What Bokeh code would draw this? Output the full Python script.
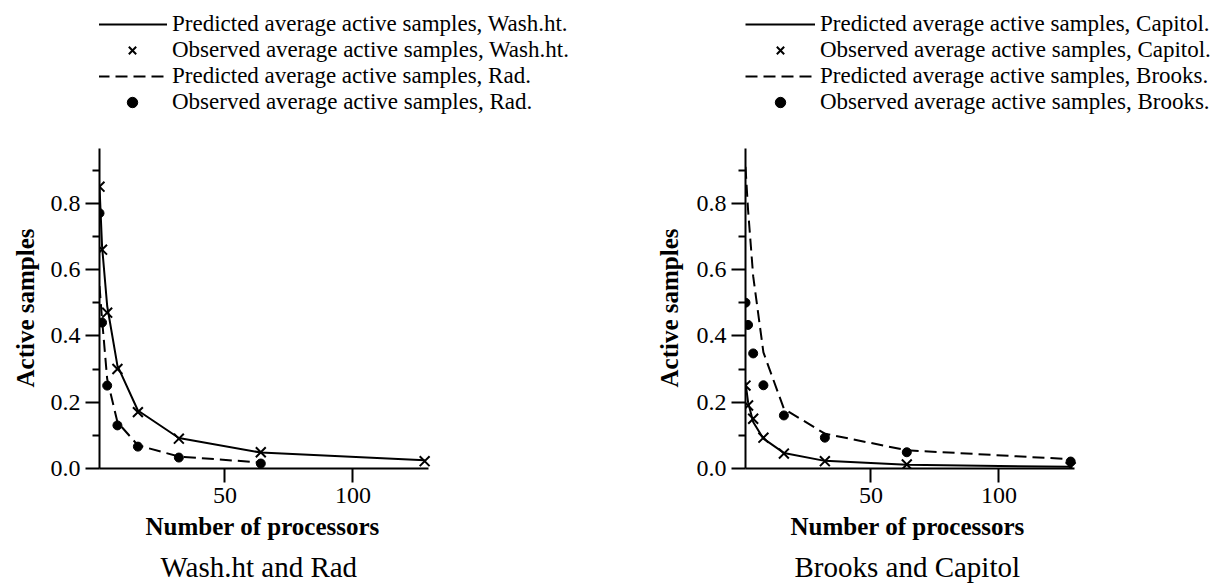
from bokeh.plotting import figure
from bokeh.layouts import row
from bokeh.models import (Range1d, FixedTicker, PrintfTickFormatter, Legend,
                          LegendItem, Title)
from bokeh.embed import file_html
from bokeh.resources import INLINE

# Number of processors at which samples were measured
procs = [1, 2, 4, 8, 16, 32, 64, 128]
procs_rad = [1, 2, 4, 8, 16, 32, 64]

# Wash.ht and Rad
wash_pred = [0.85, 0.67, 0.49, 0.31, 0.175, 0.092, 0.048, 0.025]
wash_obs = [0.85, 0.66, 0.47, 0.30, 0.17, 0.09, 0.049, 0.022]
rad_pred = [0.55, 0.45, 0.27, 0.14, 0.07, 0.036, 0.018]
rad_obs = [0.77, 0.44, 0.25, 0.13, 0.066, 0.033, 0.015]

# Brooks and Capitol
cap_pred = [0.26, 0.20, 0.14, 0.09, 0.047, 0.023, 0.011, 0.005]
cap_obs = [0.25, 0.19, 0.15, 0.093, 0.045, 0.022, 0.012, 0.004]
brooks_pred = [0.91, 0.78, 0.58, 0.35, 0.18, 0.105, 0.055, 0.028]
brooks_obs = [0.50, 0.433, 0.347, 0.251, 0.16, 0.093, 0.049, 0.021]

y_major = [0.0, 0.2, 0.4, 0.6, 0.8]
y_minor = [0.1, 0.3, 0.5, 0.7, 0.9]
x_major = [50, 100]

SERIF = "Liberation Serif"
# extent of the drawn axes (data units)
X_LO, X_HI = 1, 129.5
Y_LO, Y_HI = 0, 0.965

# page geometry of each half
W, H = 613, 588
AXIS_W = 329          # pixel length of the x axis
AXIS_H = 320          # pixel length of the y axis
BOTTOM = 120          # space under the x axis
LEGEND_BOTTOM = 115   # lower edge of the key, from the top of the page

SOLID = dict(line_color="black", line_width=2)
DASHED = dict(line_color="black", line_width=2, line_dash="12 6")
CROSS = dict(marker="x", size=14, line_color="black", line_width=2)
DOT = dict(marker="circle", size=9, fill_color="black", line_color="black")


def chart(caption, solid_name, dash_name, solid_x, solid_pred, solid_obs,
          dash_x, dash_pred, dash_obs, border_left, ylabel_standoff,
          legend_dx, xlabel_offset, caption_offset):
    # the frame runs to the top and right edges so the key fits inside it;
    # the axes themselves are bounded to the data extent
    frame_w = W - border_left
    frame_h = H - BOTTOM
    x_scale = AXIS_W / (X_HI - X_LO)
    y_scale = AXIS_H / (Y_HI - Y_LO)
    x_range = Range1d(X_LO, X_LO + frame_w / x_scale)
    y_range = Range1d(Y_LO, Y_LO + frame_h / y_scale)

    p = figure(width=W, height=H, output_backend="svg", toolbar_location=None,
               x_range=x_range, y_range=y_range,
               min_border_left=border_left, min_border_right=0,
               min_border_top=0, min_border_bottom=BOTTOM)
    p.outline_line_color = None
    p.grid.visible = False

    r_solid = p.line(solid_x, solid_pred, **SOLID)
    r_x = p.scatter(solid_x, solid_obs, **CROSS)
    r_dash = p.line(dash_x, dash_pred, **DASHED)
    r_dot = p.scatter(dash_x, dash_obs, **DOT)

    for ax in (p.xaxis[0], p.yaxis[0]):
        ax.axis_line_width = 2
        ax.major_tick_line_width = 2
        ax.minor_tick_line_width = 2
        ax.major_tick_in = 0
        ax.minor_tick_in = 0
        ax.major_tick_out = 14
        ax.minor_tick_out = 7
        ax.major_label_text_font = SERIF
        ax.major_label_text_font_size = "24px"
        ax.major_label_text_color = "black"

    p.xaxis.bounds = (X_LO, X_HI)
    p.xaxis.ticker = FixedTicker(ticks=x_major)
    p.xaxis.minor_tick_line_color = None
    p.xaxis.major_label_standoff = 5

    p.yaxis.bounds = (Y_LO, Y_HI)
    p.yaxis.ticker = FixedTicker(ticks=y_major, minor_ticks=y_minor)
    p.yaxis.formatter = PrintfTickFormatter(format="%.1f")
    p.yaxis.major_label_standoff = 5

    # axis titles, centred on the bounded axes rather than on the whole frame
    label_style = dict(text_font=SERIF, text_font_size="25px",
                       text_font_style="bold", text_color="black")
    p.add_layout(Title(text="Number of processors", align="left",
                       offset=xlabel_offset, standoff=10, **label_style), "below")
    p.add_layout(Title(text="Active samples", align="left", offset=81,
                       standoff=ylabel_standoff, **label_style), "left")

    p.add_layout(Title(text=caption, align="left", offset=caption_offset,
                       text_font=SERIF, text_font_size="29px",
                       text_font_style="normal", text_color="black",
                       standoff=9), "below")

    legend = Legend(items=[
        LegendItem(label=f"Predicted average active samples, {solid_name}.", renderers=[r_solid]),
        LegendItem(label=f"Observed average active samples, {solid_name}.", renderers=[r_x]),
        LegendItem(label=f"Predicted average active samples, {dash_name}.", renderers=[r_dash]),
        LegendItem(label=f"Observed average active samples, {dash_name}.", renderers=[r_dot]),
    ], location=(legend_dx, frame_h - LEGEND_BOTTOM), orientation="vertical",
        glyph_width=70, glyph_height=26, label_height=26, spacing=0,
        padding=0, margin=0, label_standoff=5,
        label_text_font=SERIF, label_text_font_size="23px",
        label_text_color="black",
        border_line_color=None, background_fill_alpha=0)
    p.add_layout(legend, "center")
    return p


left = chart("Wash.ht and Rad", "Wash.ht", "Rad", procs, wash_pred, wash_obs,
             procs_rad, rad_pred, rad_obs, 99, 18, -2, 46, 61)
right = chart("Brooks and Capitol", "Capitol", "Brooks", procs, cap_pred, cap_obs,
              procs, brooks_pred, brooks_obs, 132, 21, 0, 45, 49)

layout = row(left, right, spacing=0)
open("out.html", "w").write(file_html(layout, INLINE))
